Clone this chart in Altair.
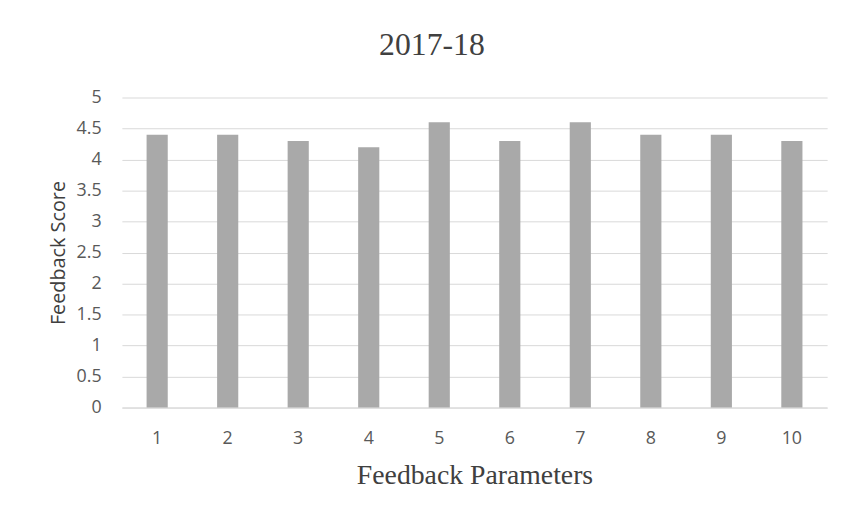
import altair as alt
import pandas as pd

params = ["1", "2", "3", "4", "5", "6", "7", "8", "9", "10"]
scores = [4.4, 4.4, 4.3, 4.2, 4.6, 4.3, 4.6, 4.4, 4.4, 4.3]

df = pd.DataFrame({"param": params, "score": scores})

chart = alt.Chart(df).mark_bar(color="#a9a9a9").encode(
    x=alt.X("param:N", sort=params,
            scale=alt.Scale(paddingInner=0.70, paddingOuter=0.35),
            axis=alt.Axis(title="Feedback Parameters", labelAngle=0,
                          labelFont="Open Sans", labelFontSize=18, labelColor="#595959",
                          labelPadding=22, ticks=False, domainColor="#d9d9d9",
                          titleFont="Liberation Serif", titleFontSize=28,
                          titleFontWeight="normal", titleColor="#404040",
                          titlePadding=15)),
    y=alt.Y("score:Q", scale=alt.Scale(domain=[0, 5]),
            axis=alt.Axis(title="Feedback Score", values=[0, 0.5, 1, 1.5, 2, 2.5, 3, 3.5, 4, 4.5, 5],
                          format="~g", labelFont="Open Sans", labelFontSize=18,
                          labelColor="#595959", labelPadding=21, ticks=False, domain=False,
                          gridColor="#d9d9d9", titleFont="Open Sans", titleFontSize=20,
                          titleFontWeight="normal", titleColor="#404040", titlePadding=8)),
).properties(
    width=712, height=313,
    title=alt.TitleParams("2017-18", font="Liberation Serif", fontSize=32,
                          fontWeight="normal", color="#404040", offset=27, dx=-43),
    autosize=alt.AutoSizeParams(type="none"),
    padding={"left": 115, "top": 88, "right": 14, "bottom": 97},
).configure_view(stroke=None)

chart.save("out.html", embed_options={"renderer": "svg", "actions": False})
